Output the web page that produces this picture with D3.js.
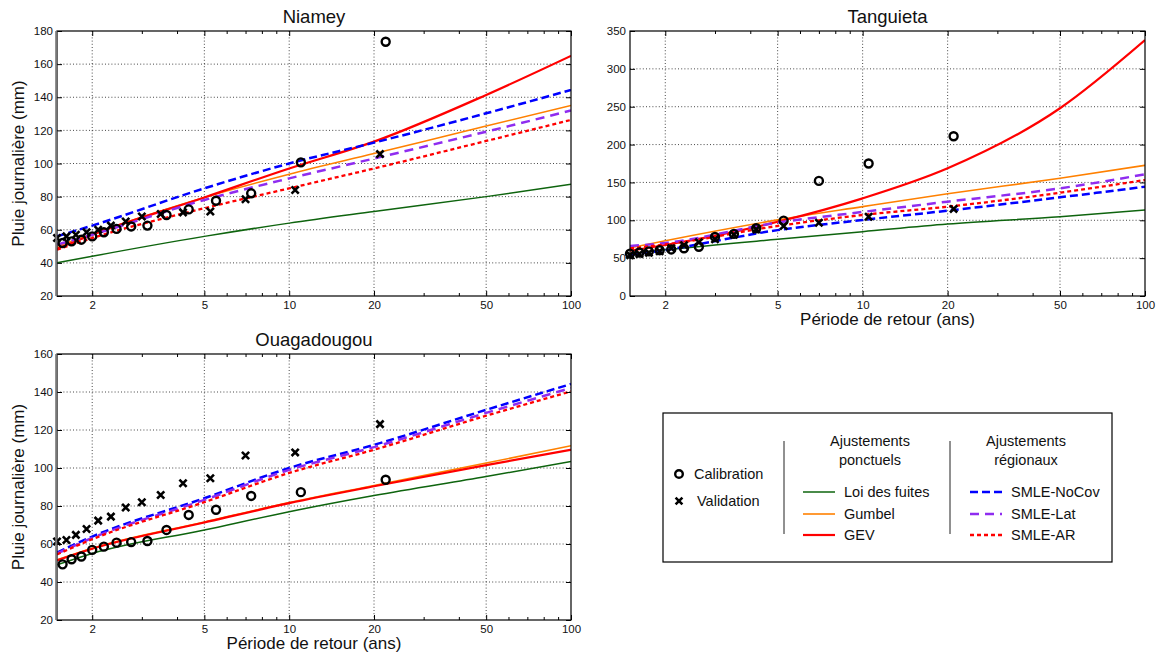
<!DOCTYPE html>
<html><head><meta charset="utf-8">
<script src="https://cdn.jsdelivr.net/npm/d3@7"></script>
<style>
body{margin:0;background:#fff}
svg{display:block}
text{font-family:"Liberation Sans",Arial,Helvetica,sans-serif;fill:#111}
</style>
</head><body>
<svg id="chart" width="1164" height="655"></svg>
<script>
// ---------------- DATA ----------------
const returnPeriods = [1.5, 2, 5, 10, 20, 50, 100];
const xTickValues = [2, 5, 10, 20, 50, 100];
const xMinorTicks = [3, 4, 6, 7, 8, 9, 30, 40, 60, 70, 80, 90];
const seriesNames = ["Loi des fuites", "Gumbel", "GEV", "SMLE-NoCov", "SMLE-Lat", "SMLE-AR"];

// plotting positions (return periods) of the observed samples
const calibPeriods22 = [22, 11, 7.33, 5.5, 4.4, 3.67, 3.14, 2.75, 2.44, 2.2, 2, 1.83, 1.69, 1.57];
const periods21 = [21, 10.5, 7, 5.25, 4.2, 3.5, 3, 2.63, 2.33, 2.1, 1.91, 1.75, 1.62, 1.5];

// Niamey
const niameyYTicks = [20, 40, 60, 80, 100, 120, 140, 160, 180];
const niameyLoiFuites = [40, 44, 56, 64, 71, 80, 87.5];
const niameyGumbel    = [50, 57.5, 79.5, 93.5, 106, 122.6, 135];
const niameyGEV       = [48.5, 57, 79.5, 97, 113.2, 141.4, 165];
const niameyNoCov     = [56, 62.5, 85, 100, 112.6, 130.3, 144.4];
const niameyLat       = [51, 57, 78, 91, 103, 119.2, 132];
const niameyAR        = [48, 55, 73, 85, 97, 113.6, 126.3];
const niameyCalib     = [173.5, 100.7, 82, 77.5, 72.3, 68.9, 62.5, 62, 60.5, 58.5, 56, 54, 53, 52];
const niameyValid     = [105.7, 84, 78.4, 71, 70.5, 69.5, 68, 65, 62.5, 60, 58.5, 57, 56, 55];

// Tanguieta
const tanguietaYTicks = [0, 50, 100, 150, 200, 250, 300, 350];
const tanguietaLoiFuites = [56, 61, 75, 85, 95, 104.8, 113.6];
const tanguietaGumbel    = [63.6, 73, 100.5, 118, 135, 155.5, 172.6];
const tanguietaGEV       = [59.8, 67.4, 98, 129, 168.7, 248, 338];
const tanguietaNoCov     = [54.2, 60.8, 87, 100.4, 112.7, 130.3, 144.4];
const tanguietaLat       = [66, 70, 97, 111, 124.6, 142.2, 160.7];
const tanguietaAR        = [63, 68, 92.5, 107, 118, 136.4, 153.2];
const tanguietaCalib     = [211, 175, 152, 99.5, 89.5, 82, 78, 65, 63, 61.5, 60.5, 59, 57.5, 56];
const tanguietaValid     = [115, 104.7, 96.8, 92.5, 88, 81, 75, 71, 67, 63, 59, 57, 55.5, 54];

// Ouagadougou
const ouagaYTicks = [20, 40, 60, 80, 100, 120, 140, 160];
const ouagaLoiFuites = [49, 55, 67.4, 77, 85.5, 95.5, 103.4];
const ouagaGumbel    = [51.6, 57.7, 71.6, 81.8, 90.8, 102.6, 111.7];
const ouagaGEV       = [51.4, 57.5, 71.3, 81.5, 90.4, 101.5, 109.6];
const ouagaNoCov     = [55.5, 63.9, 84.1, 100, 112.2, 130.6, 144.2];
const ouagaLat       = [55, 63.2, 83.2, 99, 111, 129, 142.1];
const ouagaAR        = [54.5, 62.5, 82, 97.4, 109.6, 127.5, 140.3];
const ouagaCalib     = [93.8, 87.3, 85.3, 78, 75.3, 67.4, 61.6, 61, 60.7, 58.6, 56.9, 53.4, 52, 49.3];
const ouagaValid     = [123.1, 108.2, 106.6, 94.6, 92, 85.8, 82, 79.2, 74.4, 72.3, 67.9, 64.8, 62.1, 61.3];

// ---------------- STYLES ----------------
const lineStyles = [
  {color: "#0e640e", width: 1.5, dash: null},
  {color: "#ff8000", width: 1.6, dash: null},
  {color: "#ff0000", width: 2.2, dash: null},
  {color: "#0000ff", width: 2.5, dash: "8,4"},
  {color: "#8f2cf0", width: 2.5, dash: "9,6"},
  {color: "#ff0000", width: 2.3, dash: "4,3"}
];

const svg = d3.select("#chart");
const FONT_TICK = 11.5;

function drawPanel(o) {
  const g = svg.append("g");
  const x = d3.scaleLog().domain([1.5, 100]).range([o.left, o.right]);
  const y = d3.scaleLinear().domain([o.yTicks[0], o.yTicks[o.yTicks.length - 1]]).range([o.bottom, o.top]);

  // grid
  const grid = g.append("g").attr("stroke", "#333").attr("stroke-width", 0.9).attr("stroke-dasharray", "1,2.2");
  xTickValues.filter(v => v < 100).forEach(v => {
    grid.append("line").attr("x1", x(v)).attr("x2", x(v)).attr("y1", o.top).attr("y2", o.bottom);
  });
  o.yTicks.slice(1, -1).forEach(v => {
    grid.append("line").attr("x1", o.left).attr("x2", o.right).attr("y1", y(v)).attr("y2", y(v));
  });

  // clip
  const cid = "clip" + o.id;
  svg.append("clipPath").attr("id", cid).append("rect")
    .attr("x", o.left).attr("y", o.top).attr("width", o.right - o.left).attr("height", o.bottom - o.top);

  const line = d3.line().x((d, i) => x(returnPeriods[i])).y(d => y(d)).curve(d3.curveMonotoneX);
  const lg = g.append("g").attr("clip-path", `url(#${cid})`);
  o.series.forEach((vals, k) => {
    const s = lineStyles[k];
    lg.append("path").datum(vals).attr("d", line)
      .attr("fill", "none").attr("stroke", s.color).attr("stroke-width", s.width)
      .attr("stroke-dasharray", s.dash);
  });

  // markers
  const mg = g.append("g");
  o.calib.forEach((v, i) => {
    const T = o.calibT[i];
    if (T < 1.5) return;
    mg.append("circle").attr("cx", x(T)).attr("cy", y(v)).attr("r", 4)
      .attr("fill", "none").attr("stroke", "#000").attr("stroke-width", 2.4);
  });
  const cr = 3.6;
  o.valid.forEach((v, i) => {
    const T = o.validT[i];
    if (T < 1.5) return;
    const cx = x(T), cy = y(v);
    mg.append("path").attr("d", `M${cx-cr},${cy-cr}L${cx+cr},${cy+cr}M${cx-cr},${cy+cr}L${cx+cr},${cy-cr}`)
      .attr("stroke", "#000").attr("stroke-width", 2.6).attr("fill", "none");
  });

  // axes (inward ticks)
  const styleAxis = sel => {
    sel.select(".domain").remove();
    sel.selectAll("line").attr("stroke", "#000");
    sel.selectAll("text").attr("font-size", FONT_TICK).attr("font-family", "Liberation Sans, Arial, sans-serif").attr("fill", "#222");
  };
  g.append("g").attr("transform", `translate(0,${o.bottom})`)
    .call(d3.axisBottom(x).tickValues(xTickValues).tickFormat(d3.format("d")).tickSize(-5).tickPadding(4.5)).call(styleAxis);
  g.append("g").attr("transform", `translate(0,${o.bottom})`)
    .call(d3.axisBottom(x).tickValues(xMinorTicks).tickFormat("").tickSize(-3)).call(styleAxis);
  g.append("g").attr("transform", `translate(0,${o.top})`)
    .call(d3.axisTop(x).tickValues(xTickValues).tickFormat("").tickSize(-5)).call(styleAxis);
  g.append("g").attr("transform", `translate(0,${o.top})`)
    .call(d3.axisTop(x).tickValues(xMinorTicks).tickFormat("").tickSize(-3)).call(styleAxis);
  g.append("g").attr("transform", `translate(${o.left},0)`)
    .call(d3.axisLeft(y).tickValues(o.yTicks).tickFormat(d3.format("d")).tickSize(-5).tickPadding(4)).call(styleAxis);
  g.append("g").attr("transform", `translate(${o.right},0)`)
    .call(d3.axisRight(y).tickValues(o.yTicks).tickFormat("").tickSize(-5)).call(styleAxis);

  // frame
  g.append("rect").attr("x", o.left).attr("y", o.top).attr("width", o.right - o.left).attr("height", o.bottom - o.top)
    .attr("fill", "none").attr("stroke", "#000").attr("stroke-width", 1.2);
  if (o.grayLeft) {
    g.append("line").attr("x1", o.left - 0.8).attr("x2", o.left - 0.8).attr("y1", o.top).attr("y2", o.bottom)
      .attr("stroke", "#777").attr("stroke-width", 2);
  }

  // title
  g.append("text").attr("x", (o.left + o.right) / 2).attr("y", o.top - 8)
    .attr("text-anchor", "middle").attr("font-size", 18.5).text(o.title);
  if (o.xLabel) {
    g.append("text").attr("x", (o.left + o.right) / 2).attr("y", o.bottom + 29)
      .attr("text-anchor", "middle").attr("font-size", 17).text("Période de retour (ans)");
  }
  if (o.yLabel) {
    g.append("text").attr("transform", `translate(24,${(o.top + o.bottom) / 2}) rotate(-90)`)
      .attr("text-anchor", "middle").attr("font-size", 17).text("Pluie journalière (mm)");
  }
}

drawPanel({id: "n", title: "Niamey", left: 57, right: 571, top: 31, bottom: 296, yTicks: niameyYTicks,
  series: [niameyLoiFuites, niameyGumbel, niameyGEV, niameyNoCov, niameyLat, niameyAR],
  calib: niameyCalib, calibT: calibPeriods22, valid: niameyValid, validT: periods21,
  xLabel: false, yLabel: true, grayLeft: true});
drawPanel({id: "t", title: "Tanguieta", left: 630, right: 1145, top: 31, bottom: 296, yTicks: tanguietaYTicks,
  series: [tanguietaLoiFuites, tanguietaGumbel, tanguietaGEV, tanguietaNoCov, tanguietaLat, tanguietaAR],
  calib: tanguietaCalib, calibT: periods21, valid: tanguietaValid, validT: periods21,
  xLabel: true, yLabel: false, grayLeft: false});
drawPanel({id: "o", title: "Ouagadougou", left: 57, right: 571, top: 354, bottom: 620, yTicks: ouagaYTicks,
  series: [ouagaLoiFuites, ouagaGumbel, ouagaGEV, ouagaNoCov, ouagaLat, ouagaAR],
  calib: ouagaCalib, calibT: calibPeriods22, valid: ouagaValid, validT: periods21,
  xLabel: true, yLabel: true, grayLeft: true});

// ---------------- LEGEND ----------------
const leg = svg.append("g");
const LF = 14.5;
leg.append("rect").attr("x", 663).attr("y", 413).attr("width", 449).attr("height", 149)
  .attr("fill", "#fff").attr("stroke", "#000").attr("stroke-width", 1.2);
leg.append("circle").attr("cx", 679).attr("cy", 474).attr("r", 3.8).attr("fill", "none").attr("stroke", "#000").attr("stroke-width", 2.4);
leg.append("text").attr("x", 694).attr("y", 474).attr("dy", "0.35em").attr("font-size", LF).text("Calibration");
{
  const cx = 679, cy = 501, r = 3.4;
  leg.append("path").attr("d", `M${cx-r},${cy-r}L${cx+r},${cy+r}M${cx-r},${cy+r}L${cx+r},${cy-r}`)
    .attr("stroke", "#000").attr("stroke-width", 2.6);
}
leg.append("text").attr("x", 697).attr("y", 501).attr("dy", "0.35em").attr("font-size", LF).text("Validation");
[784, 950].forEach(xv => leg.append("line").attr("x1", xv).attr("x2", xv).attr("y1", 441).attr("y2", 534)
  .attr("stroke", "#222").attr("stroke-width", 1));
const legHeaders = [["Ajustements", "ponctuels", 870], ["Ajustements", "régionaux", 1026]];
legHeaders.forEach(h => {
  leg.append("text").attr("x", h[2]).attr("y", 441).attr("dy", "0.35em").attr("text-anchor", "middle").attr("font-size", LF).text(h[0]);
  leg.append("text").attr("x", h[2]).attr("y", 460).attr("dy", "0.35em").attr("text-anchor", "middle").attr("font-size", LF).text(h[1]);
});
const legRows = [492, 514, 535];
seriesNames.forEach((name, k) => {
  const col = k < 3 ? 0 : 1;
  const yv = legRows[k % 3];
  const x0 = col === 0 ? 803 : 970;
  const s = lineStyles[k];
  leg.append("line").attr("x1", x0).attr("x2", x0 + 32).attr("y1", yv).attr("y2", yv)
    .attr("stroke", s.color).attr("stroke-width", s.width).attr("stroke-dasharray", s.dash);
  leg.append("text").attr("x", x0 + 41).attr("y", yv).attr("dy", "0.35em").attr("font-size", LF).text(name);
});
</script>
</body></html>
